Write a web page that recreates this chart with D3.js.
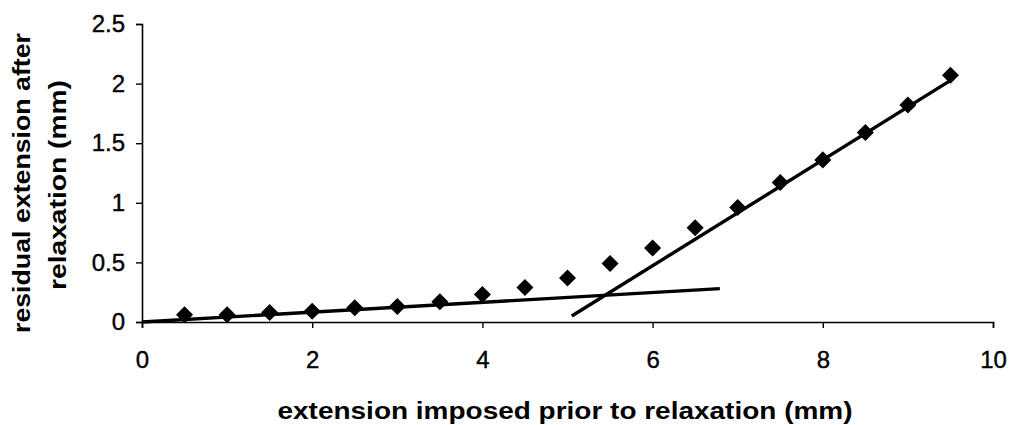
<!DOCTYPE html>
<html>
<head>
<meta charset="utf-8">
<script src="https://cdn.jsdelivr.net/npm/d3@7"></script>
<style>
  body { margin: 0; background: #fff; }
  svg { display: block; }
  text { font-family: "Liberation Sans", Arial, sans-serif; fill: #000; }
</style>
</head>
<body>
<svg></svg>
<script>
let width = 1012;
let height = 425;

// data
let extension = [0.5, 1, 1.5, 2, 2.5, 3, 3.5, 4, 4.5, 5, 5.5, 6, 6.5, 7, 7.5, 8, 8.5, 9, 9.5];
let residual = [0.06, 0.06, 0.08, 0.09, 0.12, 0.13, 0.17, 0.23, 0.29, 0.37, 0.49, 0.62, 0.79, 0.96, 1.17, 1.36, 1.59, 1.82, 2.07];

// the two fitted lines (start and end points)
let fitLow = [[0, 0], [6.79, 0.28]];
let fitHigh = [[5.05, 0.05], [9.53, 2.04]];

let xTicks = [0, 2, 4, 6, 8, 10];
let yTicks = [0, 0.5, 1, 1.5, 2, 2.5];

let svg = d3.select('svg')
            .attr('width', width)
            .attr('height', height);

let x = d3.scaleLinear().domain([0, 10]).range([142, 993]);
let y = d3.scaleLinear().domain([0, 2.5]).range([322, 24]);

// axes
let xAxis = svg.append('g')
    .attr('transform', 'translate(0,' + y(0) + ')')
    .call(d3.axisBottom(x).tickValues(xTicks).tickSize(6).tickPadding(23).tickFormat(d3.format('')));

let yAxis = svg.append('g')
    .attr('transform', 'translate(' + x(0) + ',0)')
    .call(d3.axisLeft(y).tickValues(yTicks).tickSize(6).tickPadding(11).tickFormat(d3.format('')));

[xAxis, yAxis].forEach(function(a) {
  a.select('.domain').attr('stroke', '#000').attr('stroke-width', 1.6);
  a.selectAll('.tick line').attr('stroke', '#000').attr('stroke-width', 1.4);
  a.selectAll('.tick text')
    .style('font-size', '24px')
    .style('font-family', '"Liberation Sans", Arial, sans-serif')
    .attr('stroke', '#000')
    .attr('stroke-width', 0.4);
});

// fitted lines
let line = d3.line().x(d => x(d[0])).y(d => y(d[1]));

svg.selectAll('path.fit')
    .data([fitLow, fitHigh])
    .enter()
    .append('path')
    .attr('class', 'fit')
    .attr('d', line)
    .attr('fill', 'none')
    .attr('stroke', '#000')
    .attr('stroke-width', 3.4);

// diamond markers
let diamond = d3.symbol().type(d3.symbolSquare).size(145);

svg.selectAll('path.pt')
    .data(extension)
    .enter()
    .append('path')
    .attr('class', 'pt')
    .attr('d', diamond)
    .attr('transform', (d, i) => 'translate(' + x(d) + ',' + y(residual[i]) + ') rotate(45)')
    .attr('fill', '#000');

// axis titles
svg.append('text')
    .attr('x', 565)
    .attr('y', 419)
    .attr('text-anchor', 'middle')
    .attr('textLength', 575)
    .attr('lengthAdjust', 'spacingAndGlyphs')
    .style('font-size', '23px')
    .style('font-weight', 'bold')
    .text('extension imposed prior to relaxation (mm)');

svg.append('text')
    .attr('transform', 'translate(30,183) rotate(-90)')
    .attr('text-anchor', 'middle')
    .attr('textLength', 300)
    .attr('lengthAdjust', 'spacingAndGlyphs')
    .style('font-size', '23px')
    .style('font-weight', 'bold')
    .text('residual extension after');

svg.append('text')
    .attr('transform', 'translate(66,185) rotate(-90)')
    .attr('text-anchor', 'middle')
    .attr('textLength', 210)
    .attr('lengthAdjust', 'spacingAndGlyphs')
    .style('font-size', '23px')
    .style('font-weight', 'bold')
    .text('relaxation (mm)');
</script>
</body>
</html>
